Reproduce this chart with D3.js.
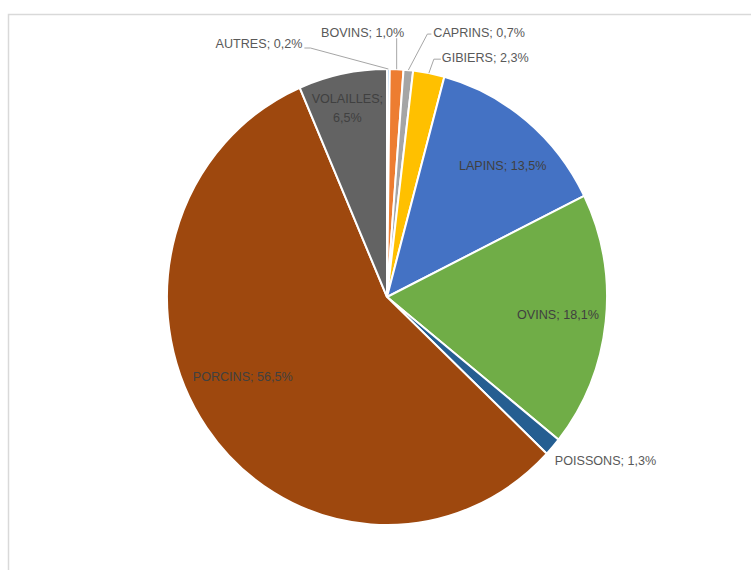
<!DOCTYPE html>
<html>
<head>
<meta charset="utf-8">
<script src="https://cdn.jsdelivr.net/npm/d3@7"></script>
<style>
    body { margin: 0; background: #fff; }
    text { font-family: "Liberation Sans", Arial, sans-serif; font-size: 12.6px; }
</style>
</head>
<body>
<div id="chart-area"></div>
<script>
const categories = ["AUTRES", "BOVINS", "CAPRINS", "GIBIERS", "LAPINS", "OVINS", "POISSONS", "PORCINS", "VOLAILLES"]
const shares = [0.2, 1.0, 0.7, 2.3, 13.5, 18.1, 1.3, 56.5, 6.5]
const colors = ["#9dc3e6", "#ed7d31", "#a5a5a5", "#ffc000", "#4472c4", "#70ad47", "#255e91", "#9e480e", "#636363"]

const width = 751,
    height = 570

const cx = 387,
    cy = 297,
    radius = 220,
    stretchY = 228 / 220

// label placement: inside labels get a nudge from the centroid,
// outside labels get an offset from the arc edge plus a leader line
const inside = {
    LAPINS: [4, 9],
    OVINS: [-4, -2],
    PORCINS: [0, -25],
    VOLAILLES: [-4, -10]
}
const outside = {
    AUTRES: { off: [-86, -26], anchor: "end", leader: [[-78, -21], [-84, -21]] },
    BOVINS: { off: [-34, -37], anchor: "middle", leader: [[0, -31]] },
    CAPRINS: { off: [25, -38], anchor: "start", leader: [[19, -36], [23, -36]] },
    GIBIERS: { off: [13, -16], anchor: "start", leader: [[5, -14], [12, -14]] },
    POISSONS: { off: [2, 14], anchor: "start", leader: [] }
}

const data = categories.map((c, i) => ({ name: c, value: shares[i], color: colors[i] }))

const svg = d3.select("#chart-area").append("svg")
        .attr("width", width)
        .attr("height", height)

// chart frame (runs off the right and bottom edge)
svg.append("rect")
        .attr("x", 8.5)
        .attr("y", 14.5)
        .attr("width", 800)
        .attr("height", 600)
        .attr("fill", "none")
        .attr("stroke", "#d9d9d9")
        .attr("stroke-width", 1.5)

const pie = d3.pie().sort(null).value(d => d.value)
const arcs = pie(data)

const arc = d3.arc().innerRadius(0).outerRadius(radius)

svg.append("g")
        .attr("transform", `translate(${cx}, ${cy}) scale(1, ${stretchY})`)
        .selectAll("path")
        .data(arcs)
        .enter()
        .append("path")
        .attr("d", arc)
        .attr("fill", d => d.data.color)
        .attr("stroke", "#fff")
        .attr("stroke-width", 2)
        .attr("vector-effect", "non-scaling-stroke")

const pointAt = (angle, r) => [cx + r * Math.sin(angle), cy - r * stretchY * Math.cos(angle)]

const fmt = v => d3.format(".1f")(v).replace(".", ",") + "%"

const labels = svg.append("g")

arcs.forEach(d => {
    const name = d.data.name
    const mid = (d.startAngle + d.endAngle) / 2
    if (inside[name]) {
        const p = pointAt(mid, radius * 0.8)
        const n = inside[name]
        const t = labels.append("text")
                .attr("text-anchor", "middle")
                .attr("fill", "#404040")
        if (name == "VOLAILLES") {
            t.append("tspan").attr("x", p[0] + n[0]).attr("y", p[1] + n[1] - 9.5 + 4.5).text(name + ";")
            t.append("tspan").attr("x", p[0] + n[0]).attr("y", p[1] + n[1] + 9.5 + 4.5).text(fmt(d.data.value))
        } else {
            t.attr("x", p[0] + n[0])
                .attr("y", p[1] + n[1] + 4.5)
                .text(name + "; " + fmt(d.data.value))
        }
    } else {
        const o = outside[name]
        const p = pointAt(mid, radius)
        if (o.leader.length) {
            const pts = [p].concat(o.leader.map(l => [p[0] + l[0], p[1] + l[1]]))
            labels.append("path")
                    .attr("d", d3.line()(pts))
                    .attr("fill", "none")
                    .attr("stroke", "#a6a6a6")
                    .attr("stroke-width", 1)
        }
        labels.append("text")
                .attr("x", p[0] + o.off[0])
                .attr("y", p[1] + o.off[1] + 4.5)
                .attr("text-anchor", o.anchor)
                .attr("fill", "#595959")
                .text(name + "; " + fmt(d.data.value))
    }
})
</script>
</body>
</html>
